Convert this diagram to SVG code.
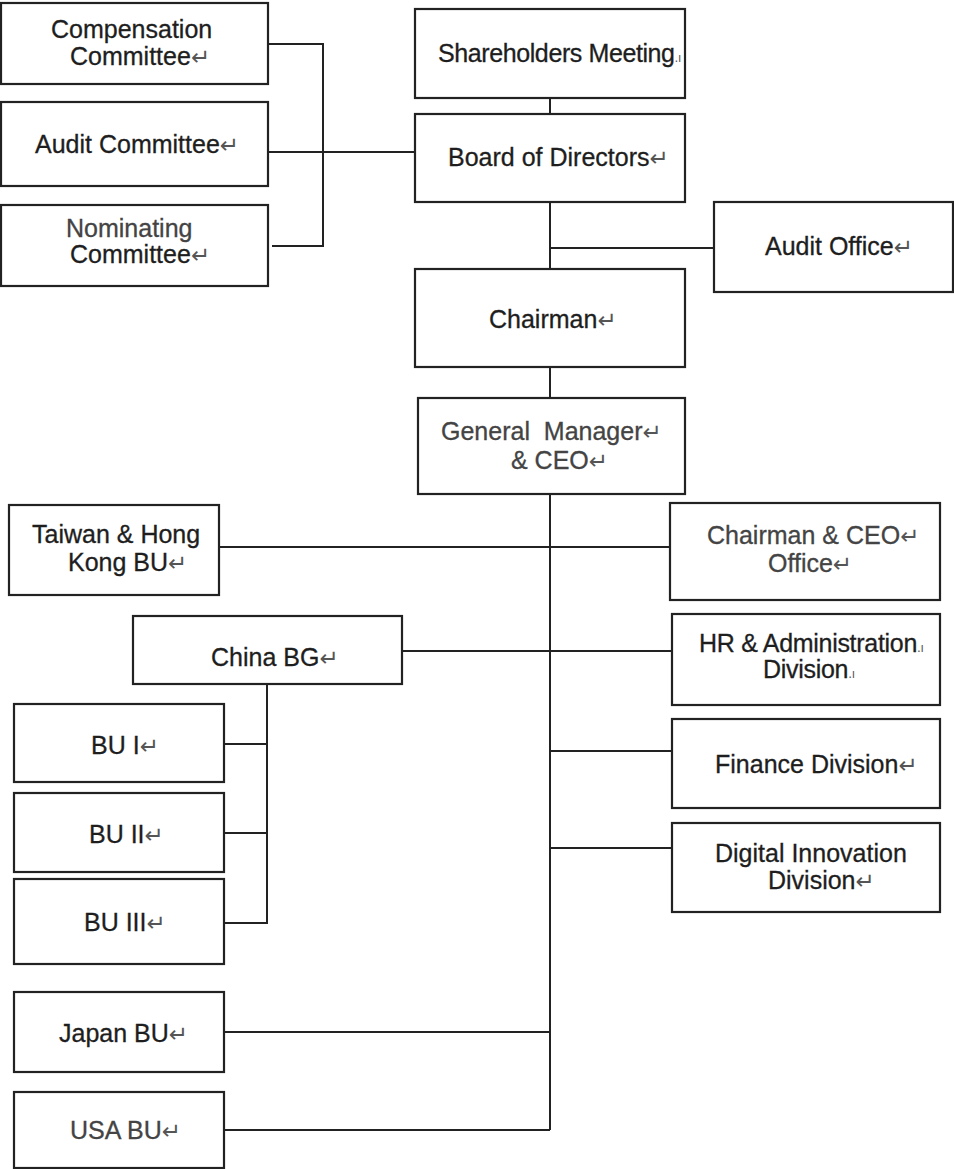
<svg xmlns="http://www.w3.org/2000/svg" width="954" height="1169" viewBox="0 0 954 1169">
<style>
.box{fill:#fff;stroke:#222;stroke-width:2.2}
.ln{fill:none;stroke:#222;stroke-width:2}
text{font-family:"Liberation Sans","DejaVu Sans",sans-serif;font-size:25px;fill:#1e1e1e;stroke:#1e1e1e;stroke-width:0.3}
.g{fill:#444;stroke:#444}
.m{font-family:"DejaVu Sans",sans-serif;font-size:23px;fill:#555;stroke:none}
.s{font-family:"DejaVu Sans",sans-serif;font-size:12px;fill:#555;stroke:none}
</style>
<rect width="954" height="1169" fill="#fff"/>
<g id="connectors">
<polyline class="ln" points="268,44 323,44 323,246 272,246"/>
<line class="ln" x1="268" y1="152" x2="415" y2="152"/>
<line class="ln" x1="550" y1="98" x2="550" y2="114"/>
<line class="ln" x1="550" y1="202" x2="550" y2="269"/>
<line class="ln" x1="550" y1="248" x2="714" y2="248"/>
<line class="ln" x1="550" y1="367" x2="550" y2="398"/>
<line class="ln" x1="550" y1="494" x2="550" y2="1130"/>
<line class="ln" x1="219" y1="547" x2="670" y2="547"/>
<line class="ln" x1="402" y1="651" x2="672" y2="651"/>
<line class="ln" x1="550" y1="751" x2="672" y2="751"/>
<line class="ln" x1="550" y1="848" x2="672" y2="848"/>
<polyline class="ln" points="267,684 267,923 224,923"/>
<line class="ln" x1="224" y1="744" x2="267" y2="744"/>
<line class="ln" x1="224" y1="833" x2="267" y2="833"/>
<line class="ln" x1="224" y1="1032" x2="550" y2="1032"/>
<polyline class="ln" points="224,1130 550,1130"/>
</g>
<g id="compensation"><rect class="box" x="1" y="3" width="267" height="81"/>
<text x="51" y="38">Compensation</text><text x="70" y="65">Committee<tspan class="m">↵</tspan></text></g>
<g id="audit-committee"><rect class="box" x="1" y="102" width="267" height="84"/>
<text x="35" y="153">Audit Committee<tspan class="m">↵</tspan></text></g>
<g id="nominating"><rect class="box" x="1" y="205" width="267" height="81"/>
<text class="g" x="66" y="237">Nominating</text><text x="70" y="263">Committee<tspan class="m">↵</tspan></text></g>
<g id="shareholders"><rect class="box" x="415" y="9" width="270" height="89"/>
<text x="438" y="62" font-size="22.5" letter-spacing="-0.4">Shareholders Meeting<tspan class="s">.ı</tspan></text></g>
<g id="board"><rect class="box" x="415" y="114" width="270" height="88"/>
<text x="448" y="166">Board of Directors<tspan class="m">↵</tspan></text></g>
<g id="audit-office"><rect class="box" x="714" y="202" width="239" height="90"/>
<text x="765" y="255">Audit Office<tspan class="m">↵</tspan></text></g>
<g id="chairman"><rect class="box" x="415" y="269" width="270" height="98"/>
<text x="489" y="328">Chairman<tspan class="m">↵</tspan></text></g>
<g id="gm-ceo"><rect class="box" x="418" y="398" width="267" height="96"/>
<text class="g" x="441" y="440" xml:space="preserve">General  Manager<tspan class="m">↵</tspan></text><text class="g" x="511" y="469">&amp; CEO<tspan class="m">↵</tspan></text></g>
<g id="taiwan-hk"><rect class="box" x="9" y="505" width="210" height="90"/>
<text x="32" y="543" font-size="23.5">Taiwan &amp; Hong</text><text x="68" y="571" font-size="23.5">Kong BU<tspan class="m">↵</tspan></text></g>
<g id="chairman-ceo-office"><rect class="box" x="670" y="503" width="270" height="97"/>
<text class="g" x="707" y="544" font-size="23.5">Chairman &amp; CEO<tspan class="m">↵</tspan></text><text class="g" x="768" y="572" font-size="23.5">Office<tspan class="m">↵</tspan></text></g>
<g id="china-bg"><rect class="box" x="133" y="616" width="269" height="68"/>
<text x="211" y="666">China BG<tspan class="m">↵</tspan></text></g>
<g id="hr-admin"><rect class="box" x="672" y="614" width="268" height="91"/>
<text x="699" y="652" font-size="22.5" letter-spacing="-0.3">HR &amp; Administration<tspan class="s">.ı</tspan></text><text x="763" y="678" font-size="22.5" letter-spacing="-0.3">Division<tspan class="s">.ı</tspan></text></g>
<g id="bu1"><rect class="box" x="14" y="704" width="210" height="78"/>
<text x="91" y="754">BU I<tspan class="m">↵</tspan></text></g>
<g id="finance"><rect class="box" x="672" y="719" width="268" height="89"/>
<text x="715" y="773">Finance Division<tspan class="m">↵</tspan></text></g>
<g id="bu2"><rect class="box" x="14" y="793" width="210" height="79"/>
<text x="89" y="843">BU II<tspan class="m">↵</tspan></text></g>
<g id="digital"><rect class="box" x="672" y="823" width="268" height="89"/>
<text x="715" y="862" font-size="23.5">Digital Innovation</text><text x="768" y="889" font-size="23.5">Division<tspan class="m">↵</tspan></text></g>
<g id="bu3"><rect class="box" x="14" y="879" width="210" height="85"/>
<text x="84" y="931">BU III<tspan class="m">↵</tspan></text></g>
<g id="japan"><rect class="box" x="14" y="992" width="210" height="80"/>
<text x="59" y="1042">Japan BU<tspan class="m">↵</tspan></text></g>
<g id="usa"><rect class="box" x="14" y="1092" width="210" height="76"/>
<text class="g" x="70" y="1139">USA BU<tspan class="m">↵</tspan></text></g>
</svg>
